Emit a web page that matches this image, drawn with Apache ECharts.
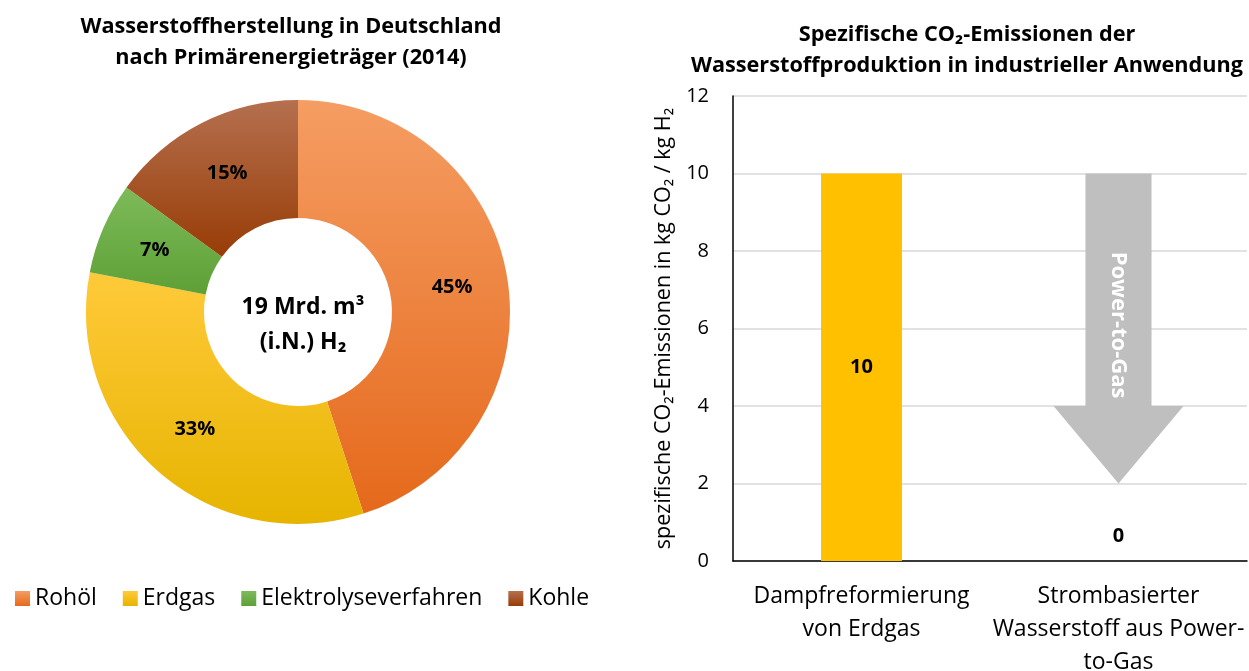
<!DOCTYPE html>
<html>
<head>
<meta charset="utf-8">
<script src="https://cdn.jsdelivr.net/npm/echarts@6/dist/echarts.min.js"></script>
<style>
  html, body { margin: 0; padding: 0; background: #fff; }
  #chart { width: 1249px; height: 671px; }
</style>
</head>
<body>
<div id="chart"></div>
<script>
// left: donut
const pieCats = ["Rohöl", "Erdgas", "Elektrolyseverfahren", "Kohle"];
const pieShares = [45, 33, 7, 15];
const pieColors = [
  ["#F59D63", "#E5691B"],
  ["#FFCA3A", "#E6B400"],
  ["#7DBB5A", "#5EA036"],
  ["#B5704F", "#983C06"]
];

// right: bars + arrow
const barCats = ["Dampfreformierung\nvon Erdgas", "Strombasierter\nWasserstoff aus Power-\nto-Gas"];
const barValues = [10, 0];
const arrowStart = 10; // shaft top
const arrowHead = 4;   // where the head begins
const arrowEnd = 2;    // tip
const yMin = 0, yMax = 12, yStep = 2;

const FONT = "'Open Sans', sans-serif";

function grad(c) {
  return new echarts.graphic.LinearGradient(0, 0, 0, 1, [
    { offset: 0, color: c[0] },
    { offset: 1, color: c[1] }
  ]);
}

const chart = echarts.init(document.getElementById("chart"));

const option = {
  animation: false,
  textStyle: { fontFamily: FONT },
  title: [
    {
      text: "Wasserstoffherstellung in Deutschland\nnach Primärenergieträger (2014)",
      left: 286, top: 6, textAlign: "center",
      textStyle: { fontSize: 21.7, fontWeight: "bold", color: "#000", lineHeight: 31, fontFamily: FONT }
    },
    {
      text: "Spezifische CO₂-Emissionen der\nWasserstoffproduktion in industrieller Anwendung",
      left: 962, top: 14, textAlign: "center",
      textStyle: { fontSize: 21.7, fontWeight: "bold", color: "#000", lineHeight: 31, fontFamily: FONT }
    },
    {
      text: "19 Mrd. m³\n(i.N.) H₂",
      left: 298, top: 285, textAlign: "center",
      textStyle: { fontSize: 23, fontWeight: "bold", color: "#000", lineHeight: 35, fontFamily: FONT }
    }
  ],
  legend: {
    data: pieCats,
    left: 10, top: 582,
    itemWidth: 15, itemHeight: 15, itemGap: 26,
    icon: "rect",
    textStyle: { fontSize: 23, color: "#000", fontFamily: FONT }
  },
  grid: { left: 733, right: 2, top: 96, bottom: 110, outerBoundsMode: "none" },
  xAxis: {
    type: "category",
    data: barCats,
    axisLine: { lineStyle: { color: "#000", width: 1.5 } },
    axisTick: { show: false },
    axisLabel: { interval: 0, fontSize: 23, color: "#000", lineHeight: 33, margin: 19, fontFamily: FONT }
  },
  yAxis: {
    type: "value",
    min: yMin, max: yMax, interval: yStep,
    name: "spezifische CO₂-Emissionen in kg CO₂ / kg H₂",
    nameLocation: "middle",
    nameGap: 58,
    nameTextStyle: { fontSize: 21.5, color: "#000", fontFamily: FONT },
    axisLine: { show: true, lineStyle: { color: "#000", width: 1.5 } },
    axisTick: { show: false },
    axisLabel: { fontSize: 20, color: "#000", margin: 24, fontFamily: FONT },
    splitLine: { lineStyle: { color: "#D9D9D9", width: 1.5 } }
  },
  series: [
    {
      type: "pie",
      center: [298, 312],
      radius: [94, 212],
      startAngle: 90,
      clockwise: true,
      label: {
        position: "inside",
        formatter: "{c}%",
        fontSize: 20, fontWeight: "bold", color: "#000", fontFamily: FONT
      },
      labelLine: { show: false },
      emphasis: { disabled: true },
      data: pieCats.map((n, i) => ({
        name: n, value: pieShares[i],
        itemStyle: { color: grad(pieColors[i]) }
      }))
    },
    {
      type: "bar",
      barWidth: "31.5%",
      itemStyle: { color: "#FFC000" },
      label: {
        show: true, position: "inside",
        fontSize: 20, fontWeight: "bold", color: "#000", fontFamily: FONT
      },
      data: barValues.map((v, i) => i === 1
        ? { value: v, label: { position: "top", distance: 15 } }
        : v)
    },
    {
      type: "custom",
      silent: true,
      z: 3,
      data: [[1, arrowStart, arrowHead, arrowEnd]],
      renderItem: function (params, api) {
        const x = api.value(0);
        const top = api.coord([x, api.value(1)]);
        const mid = api.coord([x, api.value(2)]);
        const tip = api.coord([x, api.value(3)]);
        const band = api.size([1, 0])[0];
        const sw = band * 0.257 / 2;
        const hw = band * 0.506 / 2;
        const cx = top[0];
        return {
          type: "group",
          children: [
            {
              type: "polygon",
              shape: {
                points: [
                  [cx - sw, top[1]], [cx + sw, top[1]], [cx + sw, mid[1]],
                  [cx + hw, mid[1]], [cx, tip[1]], [cx - hw, mid[1]], [cx - sw, mid[1]]
                ]
              },
              style: { fill: "#BFBFBF" }
            },
            {
              type: "text",
              x: cx, y: mid[1] - 81,
              rotation: -Math.PI / 2,
              style: {
                text: "Power-to-Gas",
                fill: "#fff",
                font: "bold 22px " + FONT,
                align: "center",
                verticalAlign: "middle"
              }
            }
          ]
        };
      }
    }
  ]
};

chart.setOption(option);
</script>
</body>
</html>
